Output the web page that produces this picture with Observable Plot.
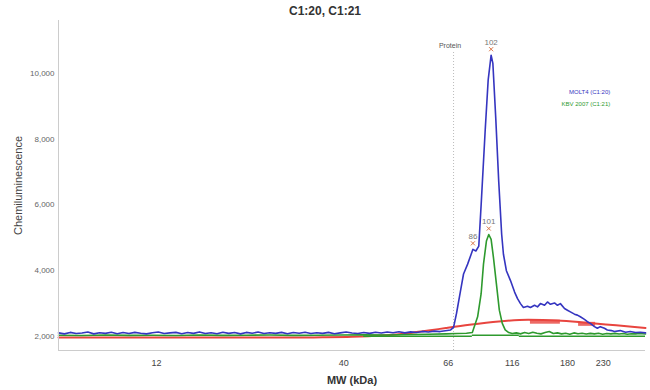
<!DOCTYPE html>
<html><head><meta charset="utf-8">
<script src="https://cdn.jsdelivr.net/npm/d3@7"></script>
<script src="https://cdn.jsdelivr.net/npm/@observablehq/plot@0.6"></script>
<style>
body{margin:0;background:#fff;font-family:"Liberation Sans",Arial,sans-serif;}
#title{height:20px;line-height:22px;text-align:center;font-weight:bold;font-size:12px;color:#333;width:650px;}
</style></head>
<body>
<div id="title">C1:20, C1:21</div>
<div id="chart"></div>
<script>
// x = relative migration position (0–100); MW (kDa) labels placed at calibrated positions
const mwTickPos = [16.7, 48.6, 66.4, 77.3, 86.7, 92.8];
const mwTickLabels = ["12", "40", "66", "116", "180", "230"];
const yTicks = [2000, 4000, 6000, 8000, 10000];

// MOLT4 (C1:20) — blue trace
const blueBaseX = d3.range(0, 66, 1);
const blueBaseY = [2110,2080,2125,2090,2105,2135,2080,2115,2095,2130,2085,2120,2090,2125,2100,2080,2115,2135,2090,2110,2125,2085,2120,2095,2140,2090,2115,2085,2130,2095,2120,2080,2125,2100,2135,2090,2115,2095,2125,2085,2120,2100,2130,2090,2115,2095,2125,2085,2110,2135,2105,2090,2120,2095,2130,2105,2135,2115,2145,2110,2140,2120,2155,2135,2165,2150];
const bluePeakX = [66.8,67.3,67.8,68.5,69.0,69.7,70.3,70.6,71.1,71.6,72.0,72.7,73.2,73.7,74.0,74.5,75.0,75.5,75.8,76.3,77.0,77.7,78.2,78.7,79.2,79.9,80.4,81.1,81.6,82.1,82.8,83.3,83.8,84.5,85.0,85.5,86.2,86.7,87.2,87.9,88.4,88.9,89.6,90.1,90.6,91.3,91.8,92.3,93.0,93.5,94.2,94.7,95.7,96.6,97.4,98.3,99.1,100];
const bluePeakY = [2200,2280,2700,3400,3900,4200,4500,4650,4600,4750,6000,8300,9800,10550,10300,8600,6700,5100,4500,4000,3700,3350,3150,3000,2880,2920,2880,2950,2900,3000,2950,3050,2980,3020,2950,3000,2850,2800,2750,2680,2650,2600,2520,2450,2400,2300,2250,2300,2250,2200,2180,2150,2180,2130,2150,2120,2130,2110];

// KBV 2007 (C1:21) — green trace
const greenX = [0,4,8,12,16,20,24,28,32,36,40,44,48,52,56,60,63,66,68,69.5,70.5,71.4,72.0,72.4,72.9,73.3,73.7,74.1,74.6,75.1,75.6,76.1,76.7,77.3,78.0,78.7,79.4,80.1,80.8,81.5,82.2,82.9,83.6,84.3,85.0,85.7,86.4,87.1,87.8,88.5,89.2,89.9,90.6,91.3,92.0,92.7,93.4,94.1,94.8,95.5,96.2,96.9,97.6,98.3,99.0,100];
const greenY = [2040,2030,2045,2035,2040,2030,2045,2035,2040,2045,2035,2040,2045,2050,2045,2060,2070,2080,2090,2100,2120,2600,3300,4200,4900,5100,4950,4400,3600,2800,2400,2200,2120,2090,2110,2080,2120,2090,2130,2100,2080,2120,2150,2090,2110,2080,2100,2070,2110,2085,2100,2075,2095,2080,2100,2070,2090,2080,2095,2075,2090,2070,2085,2080,2090,2075];
const greenFitX1 = [52, 70.5, 78.5];
const greenFitX2 = [70.5, 78.5, 100];
const greenFitY = [2010, 2040, 2010];

// red fitted background
const redX = [0,10,20,30,40,45,50,55,60,63,66,70,75,80,85,90,95,100];
const redY = [1970,1968,1970,1968,1970,1975,1990,2030,2110,2180,2260,2360,2460,2510,2490,2420,2340,2260];
const redSegX1 = [80.4, 88.6];
const redSegX2 = [85.5, 91.5];
const redSegY = [2450, 2385];

// peak annotations
const peakLabels = ["102", "101", "86"];
const peakX = [73.7, 73.3, 70.6];
const peakY = [10550, 5100, 4650];
const proteinX = 67.3;

const blue = blueBaseX.map((x,i)=>({x, y: blueBaseY[i]})).concat(bluePeakX.map((x,i)=>({x, y: bluePeakY[i]})));
const green = greenX.map((x,i)=>({x, y: greenY[i]}));
const red = redX.map((x,i)=>({x, y: redY[i]}));
const greenFit = greenFitX1.map((x1,i)=>({x1, x2: greenFitX2[i], y: greenFitY[i]}));
const redSeg = redSegX1.map((x1,i)=>({x1, x2: redSegX2[i], y: redSegY[i]}));
const peaks = peakLabels.map((label,i)=>({label, x: peakX[i], y: peakY[i]}));
const ticks = mwTickPos.map((x,i)=>({x, label: mwTickLabels[i]}));

const BLUE = "#3535c0", GREEN = "#2e9a2e", RED = "#e8453f";
const YMIN = 1575, YMAX = 11605;

const chart = Plot.plot({
  width: 650, height: 370,
  marginLeft: 58, marginRight: 5, marginTop: 0, marginBottom: 40,
  style: {fontFamily: "'Liberation Sans', Arial, sans-serif", background: "#fff"},
  x: {domain: [0, 100], axis: null},
  y: {domain: [YMIN, YMAX], axis: null},
  marks: [
    Plot.ruleX([proteinX], {y1: YMIN, y2: 10650, stroke: "#bbb", strokeDasharray: "1,2", strokeWidth: 1}),
    Plot.text(["Protein"], {x: proteinX - 0.6, y: 10850, text: d => d, fontSize: 7, fill: "#555"}),
    Plot.line(red, {x: "x", y: "y", stroke: RED, strokeWidth: 2, curve: "monotone-x"}),
    Plot.ruleY(redSeg, {x1: "x1", x2: "x2", y: "y", stroke: RED, strokeWidth: 4, strokeOpacity: 0.8}),
    Plot.ruleY(greenFit, {x1: "x1", x2: "x2", y: "y", stroke: GREEN, strokeWidth: 1.6}),
    Plot.line(green, {x: "x", y: "y", stroke: GREEN, strokeWidth: 1.6}),
    Plot.line(blue, {x: "x", y: "y", stroke: BLUE, strokeWidth: 1.6}),
    Plot.dot(peaks, {x: "x", y: "y", dy: -6, symbol: "times", r: 2, stroke: "#d9784a", strokeWidth: 1}),
    Plot.text(peaks, {x: "x", y: "y", text: "label", dy: -13, fontSize: 8, fill: "#777"}),
    Plot.text(["MOLT4 (C1:20)"], {x: 94, y: 9420, text: d => d, textAnchor: "end", fontSize: 6, fill: BLUE}),
    Plot.text(["KBV 2007 (C1:21)"], {x: 94, y: 9050, text: d => d, textAnchor: "end", fontSize: 6, fill: GREEN}),
    Plot.ruleX([0], {stroke: "#ccc"}),
    Plot.ruleY([YMIN], {stroke: "#ccc"}),
    Plot.axisY(yTicks, {tickSize: 0, tickPadding: 4, tickFormat: d3.format(","), fontSize: 8, fill: "#666",
      label: "Chemiluminescence", labelAnchor: "center", labelArrow: "none", labelOffset: 44}),
    Plot.text(ticks, {x: "x", y: YMIN, text: "label", dy: 13, fontSize: 9, fill: "#444"}),
    Plot.text(["MW (kDa)"], {x: 50, y: YMIN, text: d => d, dy: 30, fontSize: 11, fontWeight: "bold", fill: "#333"})
  ]
});
document.getElementById("chart").appendChild(chart);
chart.querySelectorAll("text").forEach(t => { if (t.textContent === "Chemiluminescence") { t.style.fontSize = "11px"; t.style.fill = "#444"; } });
</script>
</body></html>
